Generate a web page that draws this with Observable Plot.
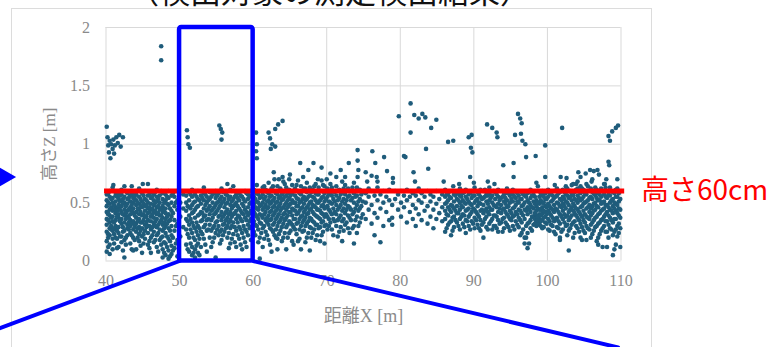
<!DOCTYPE html>
<html>
<head>
<meta charset="utf-8">
<script src="https://cdn.jsdelivr.net/npm/d3@7"></script>
<script src="https://cdn.jsdelivr.net/npm/@observablehq/plot@0.6"></script>
<style>
  html, body { margin: 0; padding: 0; background: #fff; }
  #wrap { position: relative; width: 775px; height: 347px; overflow: hidden; }
  #title { position: absolute; left: 128px; top: -33px; font: 31px "Noto Sans CJK JP", sans-serif; color: #111; white-space: nowrap; }
  #box { position: absolute; left: 11px; top: 8px; width: 641px; height: 340px; border: 1px solid #dcdcdc; box-sizing: border-box; }
  #chart { position: absolute; left: 0; top: 0; }
</style>
</head>
<body>
<div id="wrap">
  <div id="title">（検出対象の測定検出結果）</div>
  <div id="box"></div>
  <div id="chart"></div>
</div>
<script>
// Distance X [m] ticks and height Z [m] ticks
const xTicks = [40, 50, 60, 70, 80, 90, 100, 110];
const yTicks = [0, 0.5, 1, 1.5, 2];

// Height threshold (60 cm) and its label
const threshold = 0.6;
const thresholdLabel = "高さ60cm";

// Highlighted span of the survey, 50–60 m
const zoomSpan = { x1: 50, x2: 60, z1: 0, z2: 2 };

// Callout lines leading from the highlighted span to the enlarged view
const calloutLeft = [[50, 0], [25.4, -0.58]];
const calloutRight = [[60, 0], [109.6, -0.74]];
const pointer = { x: 26.3, z: 0.72 };

// Measured points in the main band, first scan pass: [distance, [heights...]]
const bandColumns = [
  [40.1, [0.08,0.17,0.25,0.31,0.36,0.42,0.47,0.52,0.57]],
  [40.5, [0.06,0.14,0.22,0.28,0.33,0.39,0.44,0.49,0.55,0.6]],
  [40.9, [0.1,0.19,0.26,0.34,0.38,0.43,0.5,0.54,0.63]],
  [41.3, [0.2,0.27,0.3,0.35,0.41,0.46,0.51,0.56,0.59]],
  [41.7, [0.12,0.24,0.29,0.37,0.4,0.45,0.48,0.53,0.58]],
  [42.1, [0.16,0.21,0.32,0.36,0.42,0.47,0.52,0.57,0.61]],
  [42.5, [0.03,0.18,0.26,0.33,0.39,0.44,0.5,0.55,0.64]],
  [42.9, [0.22,0.28,0.31,0.38,0.43,0.49,0.53,0.58]],
  [43.3, [0.15,0.24,0.3,0.35,0.4,0.46,0.51,0.56,0.6]],
  [43.7, [0.09,0.2,0.27,0.34,0.41,0.45,0.5,0.54,0.59]],
  [44.1, [0.1,0.25,0.32,0.37,0.42,0.48,0.52,0.57]],
  [44.5, [0.17,0.23,0.29,0.36,0.4,0.44,0.49,0.55,0.62]],
  [44.9, [0.07,0.21,0.28,0.33,0.39,0.46,0.51,0.58]],
  [45.3, [0.19,0.26,0.31,0.38,0.43,0.47,0.53,0.6]],
  [45.7, [0.14,0.24,0.3,0.35,0.41,0.45,0.5,0.56,0.66]],
  [46.1, [0.07,0.2,0.27,0.34,0.38,0.44,0.49,0.54,0.59]],
  [46.5, [0.16,0.25,0.32,0.37,0.42,0.48,0.52,0.57]],
  [46.9, [0.12,0.22,0.29,0.36,0.4,0.46,0.51,0.55,0.61]],
  [47.3, [0.18,0.27,0.33,0.39,0.44,0.5,0.56]],
  [47.7, [0.03,0.1,0.21,0.26,0.31,0.37,0.42,0.47,0.53,0.58]],
  [48.1, [0.05,0.15,0.24,0.3,0.36,0.41,0.45,0.52,0.57]],
  [48.5, [0.02,0.09,0.19,0.28,0.34,0.4,0.48,0.54,0.6]],
  [48.9, [0.06,0.13,0.22,0.3,0.38,0.43,0.5,0.56]],
  [49.3, [0.11,0.26,0.35,0.47,0.55]],
  [49.7, [0.04,0.18,0.32,0.44,0.52,0.6]],
  [50.1, [0.21,0.38,0.5]],
  [50.5, [0.29,0.45,0.57]],
  [50.9, [0.14,0.27,0.36,0.43,0.5,0.56]],
  [51.3, [0.08,0.2,0.31,0.39,0.46,0.52,0.59]],
  [51.7, [0.05,0.12,0.24,0.33,0.41,0.48,0.55,0.61]],
  [52.1, [0.03,0.1,0.18,0.28,0.37,0.44,0.51,0.57]],
  [52.5, [0.07,0.15,0.22,0.3,0.39,0.47,0.53,0.6]],
  [52.9, [0.12,0.25,0.34,0.42,0.49,0.56]],
  [53.3, [0.19,0.29,0.38,0.45,0.52,0.58,0.63]],
  [53.7, [0.08,0.26,0.35,0.43,0.5,0.55]],
  [54.1, [0.2,0.31,0.4,0.47,0.53,0.59]],
  [54.5, [0.16,0.28,0.37,0.44,0.5,0.57]],
  [54.9, [0.03,0.24,0.33,0.41,0.48,0.54,0.6]],
  [55.3, [0.22,0.3,0.38,0.45,0.51,0.58]],
  [55.7, [0.18,0.27,0.35,0.42,0.49,0.55,0.62]],
  [56.1, [0.25,0.32,0.4,0.46,0.53,0.59]],
  [56.5, [0.2,0.3,0.37,0.44,0.5,0.56,0.66]],
  [56.9, [0.15,0.28,0.35,0.42,0.48,0.55,0.61]],
  [57.3, [0.23,0.33,0.4,0.47,0.53,0.64]],
  [57.7, [0.12,0.26,0.36,0.43,0.5,0.57]],
  [58.1, [0.19,0.29,0.38,0.45,0.52,0.58]],
  [58.5, [0.1,0.24,0.34,0.41,0.49,0.55]],
  [58.9, [0.16,0.27,0.37,0.44,0.51,0.6]],
  [59.3, [0.22,0.31,0.39,0.46,0.53,0.57]],
  [59.7, [0.18,0.29,0.36,0.43,0.5,0.56]],
  [60.1, [0.25,0.34,0.42,0.49,0.55,0.61]],
  [60.5, [0.3,0.38,0.45,0.51,0.58,0.65]],
  [60.9, [0.02,0.2,0.33,0.4,0.47,0.54,0.6]],
  [61.3, [0.12,0.28,0.37,0.44,0.5,0.57,0.63]],
  [61.7, [0.25,0.35,0.42,0.48,0.55,0.61]],
  [62.1, [0.18,0.31,0.39,0.46,0.52,0.58,0.67]],
  [62.5, [0.08,0.27,0.36,0.43,0.5,0.56,0.62]],
  [62.9, [0.22,0.33,0.41,0.47,0.54,0.6,0.7]],
  [63.3, [0.1,0.19,0.3,0.38,0.45,0.51,0.57,0.64]],
  [63.7, [0.26,0.35,0.43,0.49,0.55,0.62]],
  [64.1, [0.2,0.32,0.4,0.46,0.53,0.59,0.68]],
  [64.5, [0.1,0.29,0.37,0.44,0.5,0.56,0.63]],
  [64.9, [0.24,0.34,0.42,0.48,0.54,0.61,0.7]],
  [65.3, [0.17,0.31,0.39,0.45,0.52,0.58,0.65]],
  [65.7, [0.27,0.36,0.43,0.5,0.56,0.62]],
  [66.1, [0.17,0.33,0.41,0.47,0.53,0.6,0.69]],
  [66.5, [0.1,0.3,0.38,0.45,0.51,0.57,0.64]],
  [66.9, [0.26,0.35,0.42,0.49,0.55,0.62]],
  [67.3, [0.2,0.32,0.4,0.46,0.53,0.59,0.67]],
  [67.7, [0.09,0.29,0.37,0.44,0.5,0.56,0.63]],
  [68.1, [0.24,0.34,0.42,0.48,0.55,0.61]],
  [68.5, [0.18,0.31,0.39,0.46,0.52,0.58,0.66]],
  [68.9, [0.28,0.37,0.44,0.5,0.57,0.63]],
  [69.3, [0.22,0.33,0.41,0.47,0.54,0.6,0.69]],
  [69.7, [0.15,0.3,0.38,0.45,0.51,0.58,0.64]],
  [70.1, [0.27,0.38,0.47,0.55,0.62]],
  [70.5, [0.33,0.42,0.5,0.58,0.66]],
  [70.9, [0.22,0.36,0.45,0.53,0.6]],
  [71.3, [0.3,0.4,0.48,0.56,0.64,0.72]],
  [71.7, [0.25,0.37,0.46,0.54,0.61]],
  [72.1, [0.17,0.34,0.43,0.51,0.59,0.68]],
  [72.5, [0.31,0.41,0.49,0.57,0.65]],
  [72.9, [0.28,0.39,0.47,0.55,0.62]],
  [73.3, [0.35,0.44,0.52,0.6]],
  [73.7, [0.15,0.3,0.42,0.5,0.58,0.67]],
  [74.1, [0.24,0.38,0.48,0.56,0.63]],
  [74.5, [0.33,0.45,0.53,0.61]],
  [74.9, [0.4,0.51,0.59]],
  [75.3, [0.36,0.5,0.58]],
  [75.7, [0.44,0.55,0.62]],
  [76.1, [0.32,0.48,0.6]],
  [76.5, [0.22,0.41,0.56]],
  [76.9, [0.37,0.52,0.63]],
  [77.3, [0.16,0.45,0.57]],
  [77.7, [0.3,0.5,0.6]],
  [78.1, [0.42,0.55]],
  [78.5, [0.35,0.52,0.61]],
  [78.9, [0.31,0.37,0.48]],
  [79.3, [0.53,0.6]],
  [79.7, [0.44,0.57]],
  [80.1, [0.38,0.5,0.6]],
  [80.5, [0.46,0.56]],
  [80.9, [0.33,0.52,0.61]],
  [81.3, [0.42,0.55]],
  [81.7, [0.36,0.48,0.58]],
  [82.1, [0.3,0.45,0.56]],
  [82.5, [0.4,0.52,0.62]],
  [82.9, [0.35,0.5,0.58]],
  [83.3, [0.43,0.55]],
  [83.7, [0.32,0.47,0.6]],
  [84.1, [0.38,0.51,0.57]],
  [84.5, [0.28,0.44,0.55]],
  [84.9, [0.36,0.49,0.6]],
  [85.3, [0.41,0.53]],
  [85.7, [0.34,0.46,0.57]],
  [86.1, [0.25,0.36,0.43,0.49,0.55,0.61]],
  [86.5, [0.31,0.39,0.46,0.52,0.58]],
  [86.9, [0.22,0.34,0.42,0.48,0.54,0.6]],
  [87.3, [0.29,0.38,0.45,0.51,0.57]],
  [87.7, [0.33,0.41,0.47,0.53,0.59]],
  [88.1, [0.27,0.36,0.44,0.5,0.56,0.62]],
  [88.5, [0.32,0.4,0.46,0.52,0.58]],
  [88.9, [0.24,0.35,0.43,0.49,0.55,0.61]],
  [89.3, [0.3,0.38,0.45,0.51,0.57]],
  [89.7, [0.34,0.42,0.48,0.54,0.6]],
  [90.1, [0.28,0.37,0.44,0.5,0.56,0.63]],
  [90.5, [0.31,0.4,0.47,0.53,0.59]],
  [90.9, [0.26,0.35,0.43,0.49,0.55,0.61]],
  [91.3, [0.2,0.33,0.41,0.48,0.54,0.6]],
  [91.7, [0.29,0.38,0.45,0.51,0.57]],
  [92.1, [0.32,0.4,0.46,0.52,0.58,0.63]],
  [92.5, [0.27,0.36,0.44,0.5,0.56]],
  [92.9, [0.3,0.39,0.47,0.53,0.59]],
  [93.3, [0.25,0.35,0.42,0.49,0.55,0.61]],
  [93.7, [0.33,0.41,0.48,0.54,0.6]],
  [94.1, [0.28,0.37,0.45,0.51,0.57]],
  [94.5, [0.31,0.4,0.46,0.52,0.58,0.62]],
  [94.9, [0.26,0.36,0.43,0.5,0.56]],
  [95.3, [0.3,0.38,0.45,0.51,0.57,0.61]],
  [95.7, [0.34,0.42,0.48,0.54,0.6]],
  [96.1, [0.29,0.37,0.44,0.5,0.56]],
  [96.5, [0.24,0.33,0.41,0.47,0.53,0.59]],
  [96.9, [0.15,0.2,0.36,0.44,0.5,0.56]],
  [97.3, [0.11,0.24,0.32,0.4,0.46,0.52,0.58]],
  [97.7, [0.28,0.35,0.42,0.48,0.54,0.61]],
  [98.1, [0.31,0.38,0.45,0.51,0.57]],
  [98.5, [0.3,0.34,0.39,0.43,0.47,0.52]],
  [98.9, [0.32,0.36,0.4,0.44,0.49,0.55]],
  [99.3, [0.28,0.35,0.41,0.46,0.5,0.56,0.6]],
  [99.7, [0.33,0.38,0.42,0.47,0.53,0.58]],
  [100.1, [0.27,0.36,0.43,0.49,0.55,0.61]],
  [100.5, [0.31,0.39,0.45,0.51,0.57]],
  [100.9, [0.25,0.34,0.42,0.48,0.54,0.6]],
  [101.3, [0.29,0.37,0.44,0.5,0.56,0.62]],
  [101.7, [0.18,0.2,0.32,0.4,0.47,0.53,0.59]],
  [102.1, [0.27,0.36,0.43,0.49,0.55,0.61]],
  [102.5, [0.3,0.38,0.45,0.51,0.57,0.64]],
  [102.9, [0.09,0.26,0.35,0.42,0.48,0.54,0.6]],
  [103.3, [0.31,0.39,0.46,0.52,0.58,0.65]],
  [103.7, [0.24,0.34,0.41,0.47,0.53,0.59]],
  [104.1, [0.28,0.37,0.44,0.5,0.56,0.62,0.68]],
  [104.5, [0.2,0.32,0.4,0.46,0.52,0.58,0.64]],
  [104.9, [0.26,0.35,0.43,0.49,0.55,0.61]],
  [105.3, [0.18,0.3,0.38,0.45,0.51,0.57,0.66]],
  [105.7, [0.27,0.36,0.42,0.48,0.54,0.6]],
  [106.1, [0.23,0.33,0.41,0.47,0.53,0.59,0.7]],
  [106.5, [0.29,0.37,0.44,0.5,0.56,0.63]],
  [106.9, [0.14,0.2,0.32,0.4,0.46,0.52,0.58]],
  [107.3, [0.26,0.35,0.43,0.49,0.55,0.62]],
  [107.7, [0.3,0.38,0.45,0.51,0.57,0.66]],
  [108.1, [0.12,0.25,0.34,0.42,0.48,0.54,0.6]],
  [108.5, [0.28,0.37,0.44,0.5,0.56,0.63]],
  [108.9, [0.05,0.22,0.33,0.41,0.47,0.53,0.59]],
  [109.3, [0.14,0.27,0.36,0.43,0.49,0.55,0.61]],
  [109.7, [0.24,0.32,0.39,0.45,0.51,0.58]]
];

// Measured points in the main band, second scan pass: [distance, [heights...]]
const bandColumnsB = [
  [40.3, [0.12,0.2,0.23,0.35,0.4,0.41,0.5,0.58]],
  [40.7, [0.27,0.3,0.37,0.45,0.46,0.53]],
  [41.1, [0.15,0.23,0.28,0.33,0.44,0.48,0.6]],
  [41.5, [0.11,0.19,0.26,0.38,0.43,0.55]],
  [41.9, [0.21,0.34,0.35,0.44,0.51,0.56]],
  [42.3, [0.09,0.25,0.29,0.4,0.49,0.53]],
  [42.7, [0.14,0.2,0.36,0.41,0.47,0.6]],
  [43.1, [0.27,0.33,0.37,0.44,0.54]],
  [43.5, [0.1,0.22,0.32,0.43,0.48,0.57]],
  [43.9, [0.18,0.29,0.31,0.39,0.52,0.55]],
  [44.3, [0.2,0.28,0.34,0.45,0.5,0.6]],
  [44.7, [0.13,0.26,0.33,0.42,0.47,0.53]],
  [45.1, [0.15,0.23,0.35,0.4,0.49,0.56]],
  [45.5, [0.29,0.33,0.38,0.48,0.52]],
  [45.9, [0.11,0.17,0.3,0.42,0.46,0.57]],
  [46.3, [0.22,0.29,0.4,0.45,0.55]],
  [46.7, [0.18,0.3,0.34,0.43,0.5,0.59]],
  [47.1, [0.08,0.24,0.31,0.41,0.47,0.53]],
  [47.5, [0.14,0.2,0.35,0.39,0.45,0.6]],
  [47.9, [0.07,0.16,0.28,0.33,0.44,0.5]],
  [48.3, [0.12,0.21,0.32,0.38,0.49,0.55]],
  [48.7, [0.04,0.17,0.26,0.35,0.45]],
  [49.1, [0.09,0.2,0.41,0.58]],
  [49.5, [0.15,0.3,0.5]],
  [51.1, [0.1,0.23,0.34,0.47]],
  [51.5, [0.15,0.27,0.36,0.45,0.57]],
  [51.9, [0.07,0.2,0.3,0.42,0.5]],
  [52.3, [0.13,0.25,0.33,0.46,0.55]],
  [52.7, [0.05,0.19,0.28,0.4,0.52]],
  [53.1, [0.23,0.35,0.41,0.54,0.6]],
  [53.5, [0.14,0.31,0.39,0.48,0.57]],
  [53.9, [0.27,0.36,0.45,0.52]],
  [54.3, [0.12,0.26,0.35,0.43,0.55]],
  [54.7, [0.2,0.3,0.4,0.46,0.58]],
  [55.1, [0.27,0.34,0.43,0.5,0.56]],
  [55.5, [0.15,0.25,0.39,0.47,0.53]],
  [55.9, [0.22,0.31,0.38,0.51,0.59]],
  [56.3, [0.28,0.35,0.42,0.49,0.57]],
  [56.7, [0.11,0.24,0.33,0.4,0.53]],
  [57.1, [0.19,0.3,0.38,0.45,0.51,0.6]],
  [57.5, [0.16,0.29,0.41,0.48,0.55]],
  [57.9, [0.22,0.33,0.39,0.47,0.54]],
  [58.3, [0.14,0.27,0.36,0.43,0.56]],
  [58.7, [0.2,0.3,0.4,0.47,0.53]],
  [59.1, [0.12,0.25,0.35,0.42,0.58]],
  [59.5, [0.28,0.34,0.41,0.49,0.55]],
  [60.3, [0.22,0.31,0.4,0.46,0.53,0.6]],
  [60.7, [0.16,0.27,0.36,0.44,0.5,0.57]],
  [61.1, [0.24,0.32,0.39,0.48,0.55]],
  [61.5, [0.19,0.3,0.4,0.46,0.53,0.64]],
  [61.9, [0.22,0.33,0.37,0.45,0.51,0.59]],
  [62.3, [0.14,0.28,0.35,0.42,0.49,0.55]],
  [62.7, [0.25,0.31,0.39,0.46,0.52,0.64]],
  [63.1, [0.2,0.27,0.36,0.43,0.5,0.58]],
  [63.5, [0.23,0.33,0.4,0.47,0.54,0.6]],
  [63.9, [0.17,0.29,0.37,0.45,0.52,0.57]],
  [64.3, [0.24,0.35,0.41,0.48,0.55,0.66]],
  [64.7, [0.2,0.31,0.39,0.46,0.52,0.58]],
  [65.1, [0.26,0.33,0.42,0.49,0.56]],
  [65.5, [0.14,0.29,0.36,0.44,0.5,0.6]],
  [65.9, [0.23,0.32,0.4,0.47,0.54,0.65]],
  [66.3, [0.19,0.27,0.36,0.43,0.5,0.58]],
  [66.7, [0.25,0.33,0.39,0.46,0.53,0.6]],
  [67.1, [0.16,0.3,0.37,0.44,0.52,0.62]],
  [67.5, [0.24,0.34,0.41,0.48,0.55]],
  [67.9, [0.2,0.28,0.36,0.45,0.51,0.59]],
  [68.3, [0.27,0.33,0.4,0.47,0.54,0.64]],
  [68.7, [0.22,0.31,0.38,0.44,0.5,0.57]],
  [69.1, [0.17,0.29,0.36,0.43,0.52,0.6]],
  [69.5, [0.25,0.34,0.4,0.48,0.55,0.65]],
  [69.9, [0.31,0.4,0.46,0.53,0.6]],
  [70.3, [0.3,0.36,0.44,0.51,0.57]],
  [70.7, [0.27,0.4,0.49,0.56,0.63]],
  [71.1, [0.34,0.42,0.51,0.59]],
  [71.5, [0.21,0.35,0.44,0.52,0.6]],
  [71.9, [0.29,0.39,0.48,0.57]],
  [72.3, [0.26,0.36,0.45,0.53,0.62]],
  [72.7, [0.33,0.44,0.52,0.6]],
  [73.1, [0.24,0.37,0.46,0.56]],
  [73.5, [0.28,0.4,0.54,0.63]],
  [73.9, [0.35,0.45,0.55]],
  [74.3, [0.3,0.43,0.51,0.6]],
  [74.7, [0.37,0.47,0.57]],
  [86.3, [0.28,0.4,0.5,0.57]],
  [86.7, [0.33,0.44,0.55]],
  [87.1, [0.26,0.37,0.47,0.6]],
  [87.5, [0.35,0.43,0.56]],
  [87.9, [0.3,0.41,0.52,0.58]],
  [88.3, [0.38,0.47,0.55]],
  [88.7, [0.29,0.39,0.5,0.59]],
  [89.1, [0.34,0.44,0.53]],
  [89.5, [0.27,0.4,0.49,0.58]],
  [89.9, [0.32,0.45,0.56]],
  [90.3, [0.35,0.42,0.52,0.6]],
  [90.7, [0.28,0.38,0.5,0.57]],
  [91.1, [0.31,0.44,0.53]],
  [91.5, [0.36,0.43,0.55,0.61]],
  [91.9, [0.27,0.42,0.49,0.56]],
  [92.3, [0.34,0.44,0.54]],
  [92.7, [0.3,0.39,0.48,0.6]],
  [93.1, [0.28,0.38,0.46,0.57]],
  [93.5, [0.32,0.45,0.52]],
  [93.9, [0.25,0.36,0.44,0.55,0.6]],
  [94.3, [0.33,0.42,0.49,0.54]],
  [94.7, [0.29,0.38,0.47,0.6]],
  [95.1, [0.35,0.41,0.53,0.58]],
  [95.5, [0.27,0.39,0.46,0.55]],
  [95.9, [0.31,0.4,0.51,0.58]],
  [96.3, [0.22,0.35,0.43,0.53]],
  [96.7, [0.27,0.39,0.48,0.57]],
  [97.1, [0.2,0.3,0.43,0.55]],
  [97.5, [0.15,0.33,0.44,0.5,0.59]],
  [97.9, [0.26,0.38,0.46,0.56]],
  [98.3, [0.32,0.36,0.41,0.49,0.55]],
  [98.7, [0.31,0.35,0.38,0.45,0.5]],
  [99.1, [0.3,0.34,0.39,0.44,0.52,0.58]],
  [99.5, [0.29,0.37,0.43,0.5,0.55]],
  [99.9, [0.32,0.4,0.46,0.53,0.6]],
  [100.3, [0.26,0.34,0.41,0.47,0.58]],
  [100.7, [0.3,0.37,0.44,0.52,0.56]],
  [101.1, [0.23,0.36,0.45,0.55,0.6]],
  [101.5, [0.28,0.34,0.42,0.49,0.58]],
  [101.9, [0.25,0.38,0.46,0.52,0.6]],
  [102.3, [0.33,0.4,0.47,0.53,0.59]],
  [102.7, [0.22,0.31,0.39,0.5,0.56,0.62]],
  [103.1, [0.28,0.37,0.44,0.55,0.6]],
  [103.5, [0.2,0.33,0.43,0.49,0.56]],
  [103.9, [0.3,0.39,0.45,0.52,0.61,0.66]],
  [104.3, [0.25,0.35,0.42,0.54,0.6]],
  [104.7, [0.18,0.29,0.38,0.47,0.53,0.62]],
  [105.1, [0.24,0.33,0.4,0.5,0.58]],
  [105.5, [0.28,0.37,0.46,0.52,0.6,0.64]],
  [105.9, [0.2,0.31,0.39,0.45,0.55,0.62]],
  [106.3, [0.26,0.35,0.43,0.49,0.58]],
  [106.7, [0.17,0.3,0.38,0.47,0.54,0.61]],
  [107.1, [0.23,0.33,0.41,0.52,0.57]],
  [107.5, [0.12,0.28,0.36,0.44,0.5,0.6]],
  [107.9, [0.25,0.34,0.4,0.48,0.55,0.63]],
  [108.3, [0.2,0.31,0.39,0.46,0.57]],
  [108.7, [0.27,0.35,0.43,0.52,0.6]],
  [109.1, [0.1,0.25,0.36,0.45,0.5,0.58]],
  [109.5, [0.21,0.3,0.41,0.48,0.55,0.62]],
  [109.9, [0.12,0.28,0.37,0.44,0.53]]
];

// Scattered higher returns: [distance, height]
const highPoints = [
  [40.1,1.15],[40.2,1.06],[40.3,0.99],[40.4,0.93],[40.5,1.03],[40.6,0.88],[40.7,1.0],[40.9,0.96],
  [41.0,1.04],[41.2,0.99],[41.4,1.06],[41.6,1.01],[41.8,1.08],[42.0,0.98],[42.3,1.06],[41.1,0.92],
  [41.0,0.65],[43.5,0.64],[45.0,0.66],
  [47.5,1.84],[47.5,1.72],
  [51.0,1.12],[51.1,1.06],[51.2,1.0],[51.4,0.97],
  [55.4,1.16],[55.6,1.13],[55.8,1.1],[55.7,1.04],
  [60.4,1.1],[60.5,1.0],[60.4,0.94],[60.5,0.88],
  [62.1,1.1],[62.3,1.05],[62.6,1.0],[62.4,0.96],[63.0,1.13],[63.4,1.17],[64.0,1.2],[63.0,0.98],
  [66.4,0.84],[67.5,0.78],[68.2,0.84],[69.3,0.8],[70.5,0.75],[71.9,0.78],[73.0,0.84],
  [74.2,0.95],[74.2,0.86],[74.3,0.78],[74.2,0.72],[65.0,0.74],[64.0,0.72],[62.8,0.76],
  [63.5,0.7],[66.8,0.72],[68.8,0.7],[72.5,0.72],[70.0,0.7],
  [76.2,0.94],[77.8,0.89],[76.6,0.84],[80.5,0.9],[78.2,0.77],[75.3,0.76],[76.1,0.73],[76.8,0.72],
  [75.5,0.68],[76.9,0.68],[79.0,0.71],[79.0,0.67],[81.8,0.76],[82.0,0.68],[83.8,0.79],[85.9,0.68],
  [81.4,1.35],[79.8,1.24],[81.9,1.25],[82.5,1.22],[83.0,1.26],[83.4,1.23],[84.9,1.21],[81.4,1.1],
  [84.2,1.14],[86.5,1.02],[87.2,1.03],[89.3,1.06],[89.7,1.08],[89.6,0.97],[89.8,0.93],[83.5,0.96],[80.7,0.89],
  [91.8,1.17],[92.5,1.14],[93.1,1.1],[93.2,1.06],[96.0,1.26],[96.3,1.22],[96.5,1.18],[95.6,1.08],
  [96.4,1.09],[96.6,1.03],[97.0,1.0],[97.1,0.89],[98.4,0.9],[94.0,0.82],[95.4,0.84],[95.4,0.72],
  [99.7,0.99],[102.0,1.14],
  [108.3,1.07],[108.5,1.03],[108.8,1.11],[109.3,1.14],[109.6,1.16],[108.3,0.85],[108.4,0.82],
  [104.2,0.76],[104.5,0.72],[105.8,0.78],[106.8,0.78],[99.7,0.72],[101.8,0.72],[102.6,0.71],
  [98.5,0.67],[98.7,0.64],[105.2,0.75],[106.3,0.77],[107.0,0.74],[108.0,0.7],[107.8,0.66],
  [106.0,0.68],[103.5,0.66],[101.0,0.65],[109.5,0.7],
  [89.5,0.72],[90.0,0.67],[91.9,0.68],[92.8,0.66],[88.0,0.66],[87.2,0.64]
];

const toPoints = (cols) => cols.flatMap(([x, zs]) => zs.map((z) => ({ x, z })));
const points = toPoints(bandColumns)
  .concat(toPoints(bandColumnsB))
  .concat(highPoints.map(([x, z]) => ({ x, z })));

const gridStyle = { stroke: "#d9d9d9", strokeOpacity: 1, strokeWidth: 1 };
const tickText = { fill: "#8a8a8a", fontSize: 16, fontFamily: "Liberation Serif, serif" };
const blue = "#0000ff";

const chart = Plot.plot({
  width: 775,
  height: 347,
  marginLeft: 105.5,
  marginRight: 154.5,
  marginTop: 27,
  marginBottom: 86.5,
  x: { domain: [40, 110] },
  y: { domain: [0, 2] },
  style: { background: "transparent", overflow: "visible" },
  marks: [
    Plot.gridX(xTicks, gridStyle),
    Plot.gridY(yTicks, gridStyle),
    Plot.axisX(xTicks, { ...tickText, tickSize: 0, tickPadding: 14, label: null }),
    Plot.axisY(yTicks, { ...tickText, tickSize: 0, tickPadding: 16, label: null, tickFormat: (d) => String(d) }),
    Plot.text(["距離X [m]"], {
      frameAnchor: "bottom", dy: 55, lineAnchor: "middle",
      fill: "#8a8a8a", fontSize: 18, fontFamily: "Liberation Serif, Noto Sans CJK JP, serif"
    }),
    Plot.text(["高さZ [m]"], {
      frameAnchor: "left", dx: -56, rotate: -90, lineAnchor: "middle", textAnchor: "middle",
      fill: "#8a8a8a", fontSize: 17, fontFamily: "Liberation Serif, Noto Sans CJK JP, serif"
    }),
    Plot.dot(points, { x: "x", y: "z", r: 2.3, fill: "#1f5c7b", stroke: "none" }),
    Plot.ruleY([threshold], { x1: 39.8, x2: 110.5, stroke: "#ff0000", strokeWidth: 5 }),
    Plot.text([thresholdLabel], {
      x: 110, y: threshold, dx: 20, textAnchor: "start", lineAnchor: "middle",
      fill: "#ff0000", fontSize: 28, fontFamily: "Noto Sans CJK JP, sans-serif"
    }),
    Plot.rect([zoomSpan], {
      x1: "x1", x2: "x2", y1: "z1", y2: "z2",
      fill: "none", stroke: blue, strokeWidth: 4.5, rx: 2
    }),
    Plot.line(calloutLeft, { x: (d) => d[0], y: (d) => d[1], stroke: blue, strokeWidth: 4, clip: false }),
    Plot.line(calloutRight, { x: (d) => d[0], y: (d) => d[1], stroke: blue, strokeWidth: 4, clip: false }),
    Plot.dot([pointer], { x: "x", y: "z", symbol: "triangle", rotate: 90, r: 7, fill: blue, stroke: "none" })
  ]
});

document.getElementById("chart").appendChild(chart);
</script>
</body>
</html>
